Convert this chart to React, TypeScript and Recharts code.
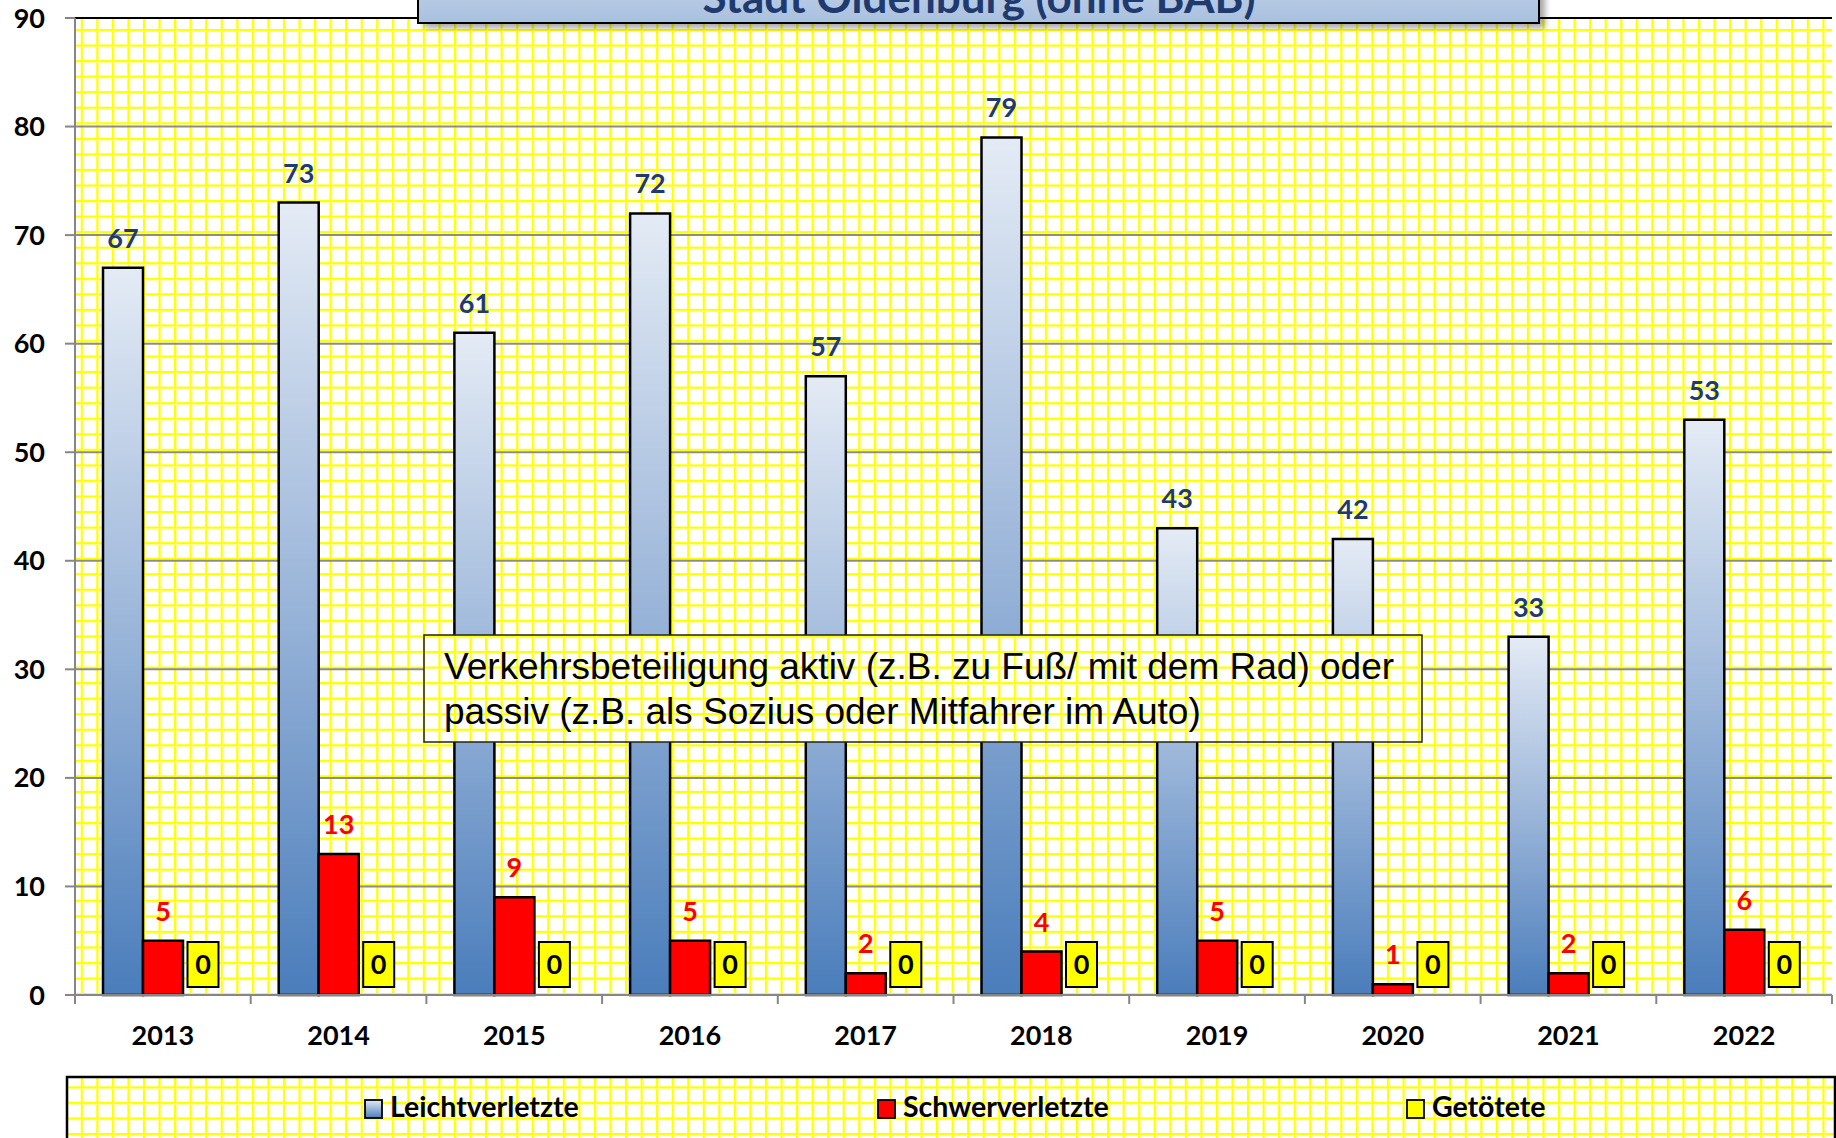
import React from 'react'
import { BarChart, Bar, XAxis, YAxis, CartesianGrid, LabelList, ReferenceLine } from 'recharts'

const years = ['2013', '2014', '2015', '2016', '2017', '2018', '2019', '2020', '2021', '2022']
const leichtverletzte = [67, 73, 61, 72, 57, 79, 43, 42, 33, 53]
const schwerverletzte = [5, 13, 9, 5, 2, 4, 5, 1, 2, 6]
const getoetete = [0, 0, 0, 0, 0, 0, 0, 0, 0, 0]
const yTicks = [0, 10, 20, 30, 40, 50, 60, 70, 80, 90]

const data = years.map((year, i) => ({
  year,
  leicht: leichtverletzte[i],
  schwer: schwerverletzte[i],
  tot: getoetete[i],
}))

const W = 1836
const H = 1138
const FONT = 'Lato, "Open Sans", sans-serif'
const NAVY = '#1f3a6e'
const AXIS = '#868686'

const topLabel = (color: string) => (props: any) => {
  const x = Number(props.x)
  const y = Number(props.y)
  const w = Number(props.width)
  return (
    <text x={x + w / 2} y={y - 20} textAnchor="middle" fill={color}
      fontFamily={FONT} fontWeight={700} fontSize={27}>
      {props.value}
    </text>
  )
}

// Getötete are all zero: draw the yellow label box above the baseline
const DeadShape = (props: any) => {
  const cx = Number(props.x) + Number(props.width) / 2
  const base = Number(props.y) + Number(props.height)
  const value = props.payload ? props.payload.tot : props.value
  return (
    <g>
      <rect x={cx - 15.5} y={base - 53} width={31} height={45} fill="#ffff00" stroke="#000" strokeWidth={2} />
      <text x={cx} y={base - 21} textAnchor="middle" fill="#000"
        fontFamily={FONT} fontWeight={700} fontSize={27}>
        {value}
      </text>
    </g>
  )
}

// category labels plus Excel-style tick marks between categories
const YearTick = (props: any) => {
  const { x, y, payload, index, visibleTicksCount } = props
  const half = payload && payload.offset ? payload.offset : 87.85
  const axisY = y - 22
  const last = index === (visibleTicksCount ? visibleTicksCount - 1 : years.length - 1)
  return (
    <g>
      <line x1={x - half} x2={x - half} y1={axisY} y2={axisY + 9} stroke={AXIS} strokeWidth={2} />
      {last && <line x1={x + half} x2={x + half} y1={axisY} y2={axisY + 9} stroke={AXIS} strokeWidth={2} />}
      <text x={x} y={y + 28} textAnchor="middle" fill="#000" fontFamily={FONT} fontWeight={700} fontSize={27}>
        {payload.value}
      </text>
    </g>
  )
}

function GridPattern({ id }: { id: string }) {
  const s = 15.55
  return (
    <pattern id={id} patternUnits="userSpaceOnUse" width={s} height={s} x={3} y={13.4}>
      <rect width={s} height={s} fill="#fff" />
      <rect x={0} y={0} width={2.3} height={s} fill="#ffff00" />
      <rect x={0} y={0} width={s} height={2.3} fill="#ffff00" />
      <rect x={2.3} y={0} width={0.6} height={s} fill="#ffffa0" />
      <rect x={0} y={2.3} width={s} height={0.6} fill="#ffffa0" />
    </pattern>
  )
}

const legendItems = [
  { name: 'Leichtverletzte', fill: 'url(#blueLeg)', x: 365 },
  { name: 'Schwerverletzte', fill: '#ff0000', x: 878 },
  { name: 'Getötete', fill: '#ffff00', x: 1407 },
]

function Overlay() {
  return (
    <svg width={W} height={H} style={{ position: 'absolute', left: 0, top: 0, pointerEvents: 'none' }}>
      <defs>
        <GridPattern id="ygo" />
        <linearGradient id="titleGrad" x1="0" y1="0" x2="0" y2="1">
          <stop offset="0%" stopColor="#c9d8ec" />
          <stop offset="100%" stopColor="#a9c0df" />
        </linearGradient>
        <linearGradient id="blueLeg" x1="0" y1="0" x2="0" y2="1">
          <stop offset="0%" stopColor="#e4ebf5" />
          <stop offset="100%" stopColor="#4a7dbb" />
        </linearGradient>
        <filter id="shadow" x="-5%" y="-50%" width="110%" height="200%">
          <feGaussianBlur stdDeviation="3" />
        </filter>
      </defs>

      {/* title box, mostly cut off at the top */}
      <rect x={424} y={-35} width={1121} height={63} fill="#000" opacity={0.35} filter="url(#shadow)" />
      <rect x={418} y={-40} width={1121} height={63} fill="url(#titleGrad)" stroke="#000" strokeWidth={2} />
      <text x={979} y={13} textAnchor="middle" fill={NAVY} fontFamily={FONT} fontWeight={700} fontSize={44}>
        Stadt Oldenburg (ohne BAB)
      </text>

      {/* annotation */}
      <rect x={424} y={635} width={998} height={107} fill="url(#ygo)" stroke="#222" strokeWidth={1.5} />
      <text fontFamily='"Liberation Sans", Arial, sans-serif' fontSize={37} fill="#000">
        <tspan x={444} y={679}>Verkehrsbeteiligung aktiv (z.B. zu Fuß/ mit dem Rad) oder</tspan>
        <tspan x={444} y={724}>passiv (z.B. als Sozius oder Mitfahrer im Auto)</tspan>
      </text>

      {/* legend */}
      <rect x={67} y={1077} width={1768} height={90} fill="url(#ygo)" stroke="#000" strokeWidth={2.5} />
      {legendItems.map((it) => (
        <g key={it.name}>
          <rect x={it.x} y={1100} width={17} height={18} fill={it.fill} stroke="#000" strokeWidth={1.8} />
          <text x={it.x + 25} y={1117} fill="#000" fontFamily={FONT} fontWeight={700} fontSize={28.5}>
            {it.name}
          </text>
        </g>
      ))}
    </svg>
  )
}

export default function App() {
  return (
    <div style={{ position: 'relative', width: W, height: H, overflow: 'hidden', background: '#fff' }}>
      <style>{'body{margin:0}'}</style>
      <BarChart width={W} height={H} data={data} barGap={0} barSize={40}
        margin={{ top: 18, right: 4, left: 15, bottom: 103 }}>
        <defs>
          <GridPattern id="yg" />
          <linearGradient id="blueBar" x1="0" y1="0" x2="0" y2="1">
            <stop offset="0%" stopColor="#e4ebf5" />
            <stop offset="50%" stopColor="#9ab5d9" />
            <stop offset="100%" stopColor="#4a7dbb" />
          </linearGradient>
        </defs>
        <CartesianGrid vertical={false} fill="url(#yg)" stroke="#8c8c8c" strokeWidth={2} />
        <XAxis dataKey="year" tickLine={false} axisLine={{ stroke: AXIS, strokeWidth: 2 }}
          tickSize={0} tickMargin={22} height={40} interval={0} tick={<YearTick />} />
        <YAxis domain={[0, 90]} ticks={yTicks} interval={0} width={60}
          axisLine={{ stroke: AXIS, strokeWidth: 2 }} tickLine={{ stroke: AXIS, strokeWidth: 2 }}
          tickSize={10} tickMargin={20}
          tick={{ fill: '#000', fontSize: 27, fontWeight: 700, fontFamily: FONT }} />
        <YAxis yAxisId="right" orientation="right" domain={[0, 90]} width={0}
          tick={false} tickLine={false} axisLine={{ stroke: '#000', strokeWidth: 2 }} />
        <ReferenceLine y={90} stroke="#000" strokeWidth={2} />
        <Bar dataKey="leicht" name="Leichtverletzte" fill="url(#blueBar)" stroke="#000" strokeWidth={2.5}
          isAnimationActive={false}>
          <LabelList dataKey="leicht" content={topLabel(NAVY)} />
        </Bar>
        <Bar dataKey="schwer" name="Schwerverletzte" fill="#ff0000" stroke="#000" strokeWidth={2.5}
          isAnimationActive={false}>
          <LabelList dataKey="schwer" content={topLabel('#ff0000')} />
        </Bar>
        <Bar dataKey="tot" name="Getötete" fill="#ffff00" stroke="#000" strokeWidth={2.5}
          minPointSize={1} shape={DeadShape} isAnimationActive={false} />
      </BarChart>
      <Overlay />
    </div>
  )
}
